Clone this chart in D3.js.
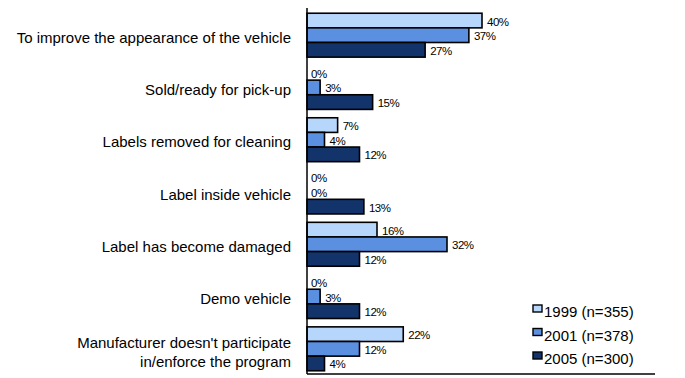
<!DOCTYPE html>
<html>
<head>
<meta charset="utf-8">
<script src="https://cdn.jsdelivr.net/npm/d3@7"></script>
<style>
  html, body { margin: 0; padding: 0; background: #fff; }
  svg { display: block; font-family: Arial, "Liberation Sans", sans-serif; }
</style>
</head>
<body>
<svg id="chart" width="685" height="378"></svg>
<script>
// Reasons given for removing the label, by survey year
const categories = [
  ["To improve the appearance of the vehicle"],
  ["Sold/ready for pick-up"],
  ["Labels removed for cleaning"],
  ["Label inside vehicle"],
  ["Label has become damaged"],
  ["Demo vehicle"],
  ["Manufacturer doesn't participate", "in/enforce the program"]
];
const seriesNames = ["1999 (n=355)", "2001 (n=378)", "2005 (n=300)"];
const values1999 = [40, 0, 7, 0, 16, 0, 22];
const values2001 = [37, 3, 4, 0, 32, 3, 12];
const values2005 = [27, 15, 12, 13, 12, 12, 4];
const colors = ["#b7d6fb", "#5b8fe0", "#12346b"];

const series = [values1999, values2001, values2005];

const svg = d3.select("#chart");
const x0 = 307, xMax = 657, yTop = 8, yBottom = 374;

const x = d3.scaleLinear().domain([0, 80]).range([x0, xMax]);
const y = d3.scaleBand().domain(d3.range(categories.length))
  .range([yTop, yBottom + 2]).paddingInner(0.16).paddingOuter(0.1);
const ySub = d3.scaleBand().domain(d3.range(series.length))
  .range([0, y.bandwidth()]).padding(0);

// bars
const groups = svg.selectAll("g.cat").data(categories).join("g")
  .attr("class", "cat")
  .attr("transform", (d, i) => `translate(0,${y(i)})`);

groups.each(function(_, ci) {
  const g = d3.select(this);
  series.forEach((vals, si) => {
    const v = vals[ci];
    g.append("rect")
      .attr("x", x(0))
      .attr("y", ySub(si))
      .attr("width", x(v) - x(0))
      .attr("height", ySub.bandwidth())
      .attr("fill", colors[si])
      .attr("stroke", "#000")
      .attr("stroke-width", 1.6);
    g.append("text")
      .attr("x", x(v) + (v === 0 ? 4 : 5))
      .attr("y", ySub(si) + ySub.bandwidth() / 2 + 1)
      .attr("dy", "0.35em")
      .attr("font-size", 11.5)
      .attr("letter-spacing", -0.5)
      .attr("fill", "#000")
      .text(v + "%");
  });
});

// category labels
groups.each(function(lines) {
  const g = d3.select(this);
  const mid = y.bandwidth() / 2;
  const lh = 19;
  const t = g.append("text")
    .attr("text-anchor", "end")
    .attr("font-size", 15)
    .attr("fill", "#000");
  lines.forEach((ln, k) => {
    t.append("tspan")
      .attr("x", 291)
      .attr("y", mid + (k - (lines.length - 1) / 2) * lh + (lines.length > 1 ? 3.5 : 2.5))
      .attr("dy", "0.35em")
      .text(ln);
  });
});

// axes
svg.append("line").attr("x1", x0).attr("x2", x0).attr("y1", yTop).attr("y2", yBottom)
  .attr("stroke", "#000").attr("stroke-width", 1.5);
svg.append("line").attr("x1", x0).attr("x2", xMax - 2).attr("y1", yBottom).attr("y2", yBottom)
  .attr("stroke", "#000").attr("stroke-width", 1.5);

// legend
const legend = svg.append("g").attr("transform", "translate(533,312)");
seriesNames.forEach((name, i) => {
  const row = legend.append("g").attr("transform", `translate(0,${i * 23.5})`);
  row.append("rect").attr("x", 0).attr("y", -7).attr("width", 9).attr("height", 7)
    .attr("fill", colors[i]).attr("stroke", "#000").attr("stroke-width", 1.4);
  row.append("text").attr("x", 11).attr("y", 0).attr("dy", "0.35em")
    .attr("font-size", 15).attr("fill", "#000").text(name);
});
</script>
</body>
</html>
